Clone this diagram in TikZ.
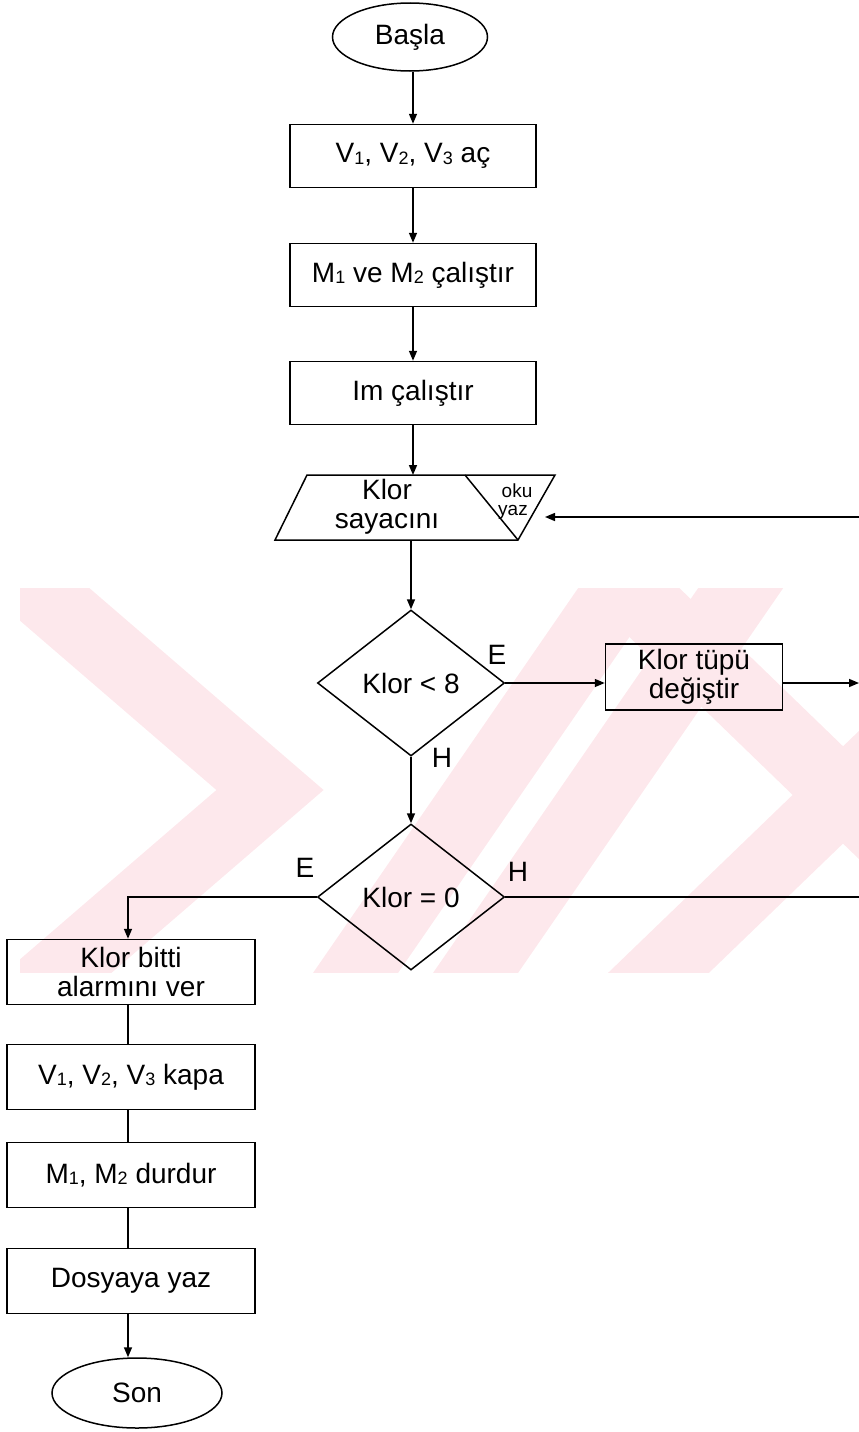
\documentclass[tikz,border=0pt]{standalone}
\usepackage{fontspec}
\setmainfont{Liberation Sans}
\usetikzlibrary{shapes.geometric,arrows.meta}
\newcommand\sbs[1]{\raisebox{-0.05em}{\fontsize{18}{18}\selectfont #1}}
\definecolor{wmpink}{HTML}{FDE8EC}
\begin{document}
\begin{tikzpicture}[x=1pt,y=-1pt,
  font=\fontsize{28}{29}\selectfont,
  line width=1.5pt,
  box/.style={draw, minimum width=246pt, minimum height=63pt, inner sep=0pt, align=center},
  lbox/.style={box, minimum width=248pt, minimum height=65pt},
  term/.style={draw, ellipse, inner sep=0pt},
  dia/.style={draw, diamond, minimum width=187pt, minimum height=146pt, inner sep=0pt},
  arr/.style={-{Triangle[length=10pt,width=8pt]}},
  lbl/.style={inner sep=0pt},
  small/.style={inner sep=0pt, font=\fontsize{19}{20}\selectfont},
  band/.style={wmpink, line width=70pt},
]
\useasboundingbox (0,0) rectangle (859,1432);
% watermark
\begin{scope}
\clip (20,588) rectangle (859,972);
\draw[band] (-20,540) -- (270,790) -- (-20,1040);
\draw[band] (330,1010) -- (640,560);
\draw[band] (450,1010) -- (760,560);
\draw[band] (600,560) -- (900,850);
\draw[band] (620,1010) -- (900,740);
\end{scope}

\node[term, minimum width=155pt, minimum height=68pt] (start) at (410,37) {Başla};
\node[box] (b1) at (413,156) {V\sbs1, V\sbs2, V\sbs3 aç};
\node[box] (b2) at (413,275) {M\sbs1 ve M\sbs2 çalıştır};
\node[box] (b3) at (413,393) {Im çalıştır};

\coordinate (p1) at (307,475);
\coordinate (p2) at (555,475);
\coordinate (p3) at (518,540);
\coordinate (p4) at (275,540);
\coordinate (pd) at (465,475);
\coordinate (ptop) at (413,475);
\coordinate (pbot) at (411,540);
\coordinate (pin) at (545,517);
\draw (p1) -- (p2) -- (p3) -- (p4) -- cycle;
\draw (pd) -- (p3);
\node[align=center, inner sep=0pt] (ptext) at (387,507) {Klor\\sayacını};
\node[small] (oku) at (517,491) {oku};
\node[small] (yaz) at (513,512) {yaz};

\node[dia] (d1) at (411,683) {Klor < 8};
\node[box, minimum width=177pt, minimum height=66pt] (tube) at (694,677) {Klor tüpü\\değiştir};
\node[dia] (d2) at (411,897) {Klor = 0};

\node[lbox] (k1) at (131,972) {Klor bitti\\alarmını ver};
\node[lbox] (k2) at (131,1077) {V\sbs1, V\sbs2, V\sbs3 kapa};
\node[lbox] (k3) at (131,1175) {M\sbs1, M\sbs2 durdur};
\node[lbox] (k4) at (131,1281) {Dosyaya yaz};
\node[term, minimum width=170pt, minimum height=70pt] (son) at (137,1393) {Son};

\node[lbl] (e1) at (497,655) {E};
\node[lbl] (h1) at (442,758) {H};
\node[lbl] (e2) at (305,868) {E};
\node[lbl] (h2) at (518,872) {H};

\coordinate (re1) at (859,683);
\coordinate (re2) at (859,897);
\coordinate (re3) at (859,517);

\draw[arr] (b1.north |- start.south) -- (b1.north);
\draw[arr] (b1.south) -- (b2.north);
\draw[arr] (b2.south) -- (b3.north);
\draw[arr] (b3.south) -- (ptop);
\draw[arr] (pbot) -- (d1.north);
\draw[arr] (d1.east) -- (d1.east -| tube.west);
\draw[arr] (tube.east |- d1.east) -- (re1);
\draw[arr] (d1.south) -- (d2.north);
\draw[arr] (d2.west) -| ([xshift=-3pt]k1.north);
\draw (d2.east) -- (re2);
\draw[arr] (re3) -- (pin);
\draw ([xshift=-3pt]k1.south) -- ([xshift=-3pt]k2.north);
\draw ([xshift=-3pt]k2.south) -- ([xshift=-3pt]k3.north);
\draw ([xshift=-3pt]k3.south) -- ([xshift=-3pt]k4.north);
\draw[arr] ([xshift=-3pt]k4.south) -- ([xshift=-3pt]k4.south |- son.north);
\end{tikzpicture}
\end{document}
